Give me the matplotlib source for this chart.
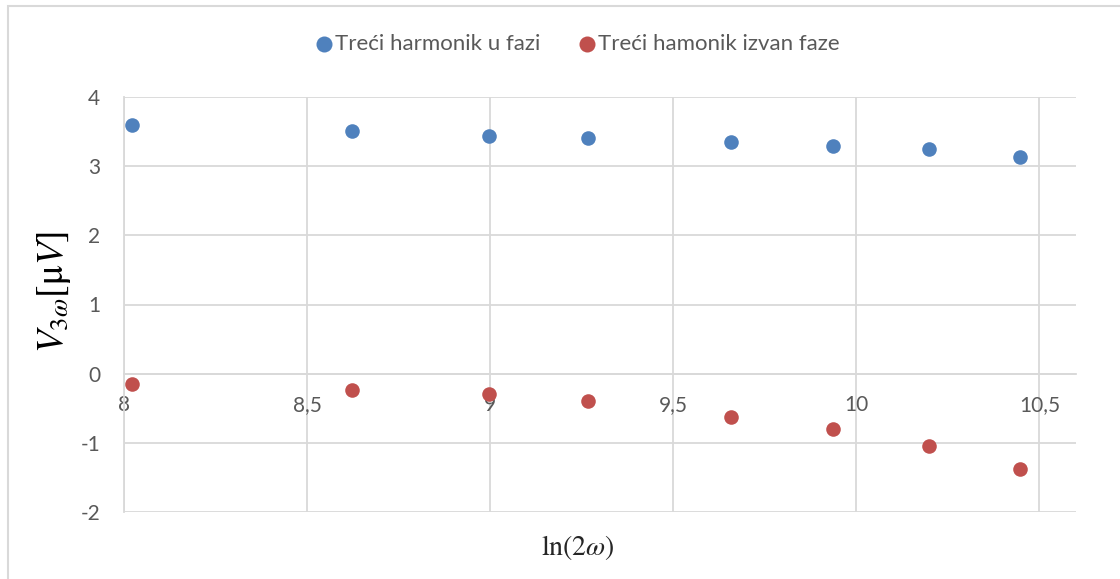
import matplotlib
matplotlib.use("Agg")
import matplotlib.pyplot as plt
from matplotlib.patches import Rectangle
from matplotlib.ticker import FuncFormatter, MultipleLocator

# ln(2ω) values and third-harmonic voltages (µV)
ln_2omega = [8.023, 8.624, 8.997, 9.266, 9.657, 9.935, 10.198, 10.448]
v_in_phase = [3.59, 3.50, 3.43, 3.40, 3.34, 3.29, 3.24, 3.13]
v_out_of_phase = [-0.154, -0.23, -0.29, -0.39, -0.63, -0.80, -1.04, -1.37]

series_labels = ["Treći harmonik u fazi", "Treći hamonik izvan faze"]
x_label = r"$\ln(2\omega)$"
y_label = r"$V_{3\omega}[\mathrm{\mu}V]$"

BLUE = "#4F81BD"
RED = "#C0504D"
GRID = "#D9D9D9"
TEXT = "#595959"

plt.rcParams["font.family"] = ["Lato", "DejaVu Sans"]
plt.rcParams["mathtext.fontset"] = "stix"

W, H = 1120, 579
fig = plt.figure(figsize=(W / 100, H / 100), dpi=100)

# chart-area border
fig.patches.append(Rectangle((8 / W, -0.05), 1.2, (H - 6) / H + 0.05,
                             transform=fig.transFigure, fill=False,
                             edgecolor=GRID, linewidth=1.5, zorder=0))

ax = fig.add_axes([124 / W, 1 - 512.3 / H, (1076 - 124) / W, (512.3 - 96.7) / H])
ax.set_xlim(8, 10.6)
ax.set_ylim(-2, 4)

ax.xaxis.set_major_locator(MultipleLocator(0.5))
ax.yaxis.set_major_locator(MultipleLocator(1))
comma = FuncFormatter(lambda v, p: f"{v:g}".replace(".", ","))
ax.xaxis.set_major_formatter(comma)
ax.yaxis.set_major_formatter(FuncFormatter(lambda v, p: f"{v:g}"))

ax.grid(True, color=GRID, linewidth=1.3)
ax.set_axisbelow(True)
for side in ["top", "right"]:
    ax.spines[side].set_visible(False)
ax.spines["left"].set_color(GRID)
ax.spines["left"].set_linewidth(1.3)
ax.spines["bottom"].set_position(("data", 0))
ax.spines["bottom"].set_color(GRID)
ax.spines["bottom"].set_linewidth(1.3)

ax.tick_params(axis="both", length=0, labelsize=15, labelcolor=TEXT)
ax.tick_params(axis="y", pad=17)
ax.tick_params(axis="x", pad=15)

ax.scatter(ln_2omega, v_in_phase, s=110, color=BLUE, label=series_labels[0],
           zorder=3, linewidths=0)
ax.scatter(ln_2omega, v_out_of_phase, s=110, color=RED, label=series_labels[1],
           zorder=3, linewidths=0)

fig.text(54 / W, 1 - 292 / H, y_label, rotation=90, ha="center", va="center",
         fontsize=27, color="black")
fig.text(578 / W, 1 - 548 / H, x_label, ha="center", va="center",
         fontsize=20, color="#262626")

leg = fig.legend(loc="center", bbox_to_anchor=(575 / W, 1 - 44 / H), ncol=2,
                 frameon=False, fontsize=16, handletextpad=-0.1,
                 handlelength=1.2, columnspacing=1.5, borderaxespad=0,
                 markerscale=1.1)
for t in leg.get_texts():
    t.set_color(TEXT)

fig.savefig("out.png", dpi=100, facecolor="white")
